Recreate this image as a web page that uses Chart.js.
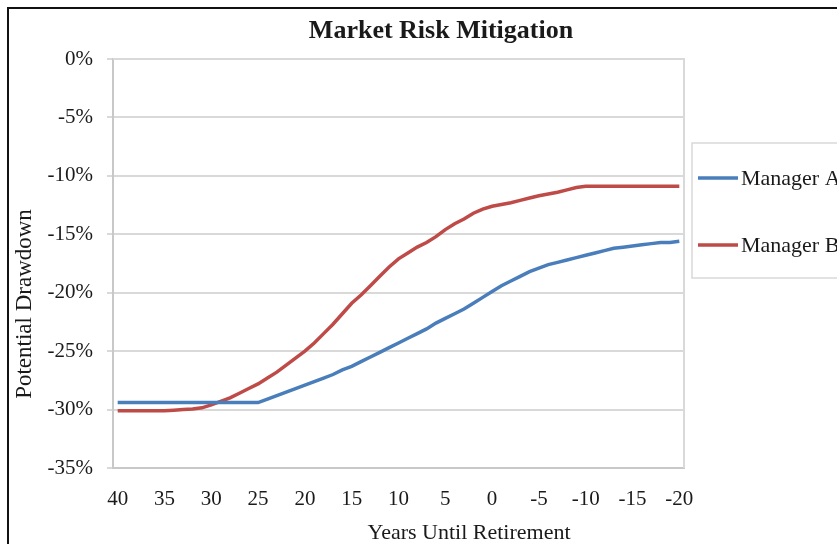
<!DOCTYPE html>
<html>
<head>
<meta charset="utf-8">
<title>Market Risk Mitigation</title>
<script src="https://cdn.jsdelivr.net/npm/chart.js@4.4.1/dist/chart.umd.min.js"></script>
<style>
  html, body { margin: 0; padding: 0; background: #fff; overflow: hidden; }
  #frame { position: absolute; left: 7px; top: 7px; width: 900px; height: 600px; border: 2px solid #111; }
  #riskChart { position: absolute; left: 0; top: 0; }
</style>
</head>
<body>
<div id="frame"><canvas id="riskChart" width="864" height="535"></canvas></div>
<script>
// years until retirement, one point per year
const years = [40, 39, 38, 37, 36, 35, 34, 33, 32, 31, 30, 29, 28, 27, 26, 25, 24, 23, 22, 21,
    20, 19, 18, 17, 16, 15, 14, 13, 12, 11, 10, 9, 8, 7, 6, 5, 4, 3, 2, 1,
    0, -1, -2, -3, -4, -5, -6, -7, -8, -9, -10, -11, -12, -13, -14, -15, -16, -17, -18, -19, -20];

// potential drawdown, percent
const managerA = [-29.4, -29.4, -29.4, -29.4, -29.4, -29.4, -29.4, -29.4, -29.4, -29.4, -29.4, -29.4, -29.4, -29.4, -29.4, -29.4,
    -29.1, -28.8, -28.5, -28.2, -27.9, -27.6, -27.3, -27.0, -26.6, -26.3, -25.9, -25.5, -25.1, -24.7,
    -24.3, -23.9, -23.5, -23.1, -22.6, -22.2, -21.8, -21.4, -20.9, -20.4,
    -19.9, -19.4, -19.0, -18.6, -18.2, -17.9, -17.6, -17.4, -17.2, -17.0,
    -16.8, -16.6, -16.4, -16.2, -16.1, -16.0, -15.9, -15.8, -15.7, -15.7, -15.6];

const managerB = [-30.1, -30.1, -30.1, -30.1, -30.1, -30.1, -30.05, -30.0, -29.95, -29.85,
    -29.6, -29.3, -29.0, -28.6, -28.2, -27.8, -27.3, -26.8, -26.2, -25.6,
    -25.0, -24.3, -23.5, -22.7, -21.8, -20.9, -20.2, -19.4, -18.6, -17.8,
    -17.1, -16.6, -16.1, -15.7, -15.2, -14.6, -14.1, -13.7, -13.2, -12.85,
    -12.6, -12.45, -12.3, -12.1, -11.9, -11.7, -11.55, -11.4, -11.2, -11.0,
    -10.9, -10.9, -10.9, -10.9, -10.9, -10.9, -10.9, -10.9, -10.9, -10.9, -10.9];

const seriesNames = ['Manager A', 'Manager B'];
const yTicks = [0, -5, -10, -15, -20, -25, -30, -35];

const serif = '"Liberation Serif", "Times New Roman", serif';
const ink = '#1a1a1a';

// title, axis titles, boxed legend and plot border
const chartDecor = {
    id: 'chartDecor',
    beforeDatasetsDraw(chart) {
        const { ctx, chartArea: a } = chart;
        ctx.save();
        ctx.strokeStyle = '#d9d9d9';
        ctx.lineWidth = 2;
        ctx.beginPath();
        ctx.moveTo(a.left, a.top);
        ctx.lineTo(a.right, a.top);
        ctx.lineTo(a.right, a.bottom);
        ctx.stroke();
        ctx.restore();
    },
    afterDraw(chart) {
        const { ctx, chartArea: a } = chart;
        ctx.save();
        ctx.fillStyle = ink;
        ctx.textAlign = 'center';
        ctx.textBaseline = 'middle';

        ctx.font = 'bold 26px ' + serif;
        ctx.fillText('Market Risk Mitigation', chart.width / 2, 22);

        ctx.font = '22px ' + serif;
        ctx.fillText('Years Until Retirement', a.left + 356, a.bottom + 65);

        ctx.save();
        ctx.translate(16, a.top + 245);
        ctx.rotate(-Math.PI / 2);
        ctx.font = '23px ' + serif;
        ctx.fillText('Potential Drawdown', 0, 0);
        ctx.restore();

        // legend box
        const lx = a.right + 8, ly = a.top + 84;
        ctx.strokeStyle = '#d9d9d9';
        ctx.lineWidth = 1.5;
        ctx.strokeRect(lx, ly, 300, 135);
        ctx.textAlign = 'left';
        ctx.font = '22px ' + serif;
        chart.data.datasets.forEach((ds, i) => {
            const y = ly + 35 + i * 67;
            ctx.strokeStyle = ds.borderColor;
            ctx.lineWidth = ds.borderWidth;
            ctx.beginPath();
            ctx.moveTo(lx + 6, y);
            ctx.lineTo(lx + 46, y);
            ctx.stroke();
            ctx.fillStyle = ink;
            ctx.fillText(ds.label, lx + 49, y + 1);
        });
        ctx.restore();
    }
};

const ctxRisk = document.getElementById('riskChart').getContext('2d');
new Chart(ctxRisk, {
    type: 'line',
    data: {
        labels: years,
        datasets: [{
            label: seriesNames[0],
            data: managerA,
            borderColor: '#4A7EBB',
            borderWidth: 3.5,
            pointRadius: 0,
            tension: 0
        }, {
            label: seriesNames[1],
            data: managerB,
            borderColor: '#BE4B48',
            borderWidth: 3.5,
            pointRadius: 0,
            tension: 0
        }]
    },
    options: {
        responsive: false,
        animation: false,
        layout: { padding: { left: 0, right: 189, top: 50, bottom: 0 } },
        plugins: {
            legend: { display: false },
            title: { display: false },
            tooltip: { enabled: false }
        },
        scales: {
            x: {
                // points sit between tick marks, half a year in from each edge
                offset: true,
                grid: { display: false, drawTicks: false },
                border: { display: true, color: '#c8c8c8', width: 2 },
                afterFit(scale) { scale.height = 76; },
                ticks: {
                    autoSkip: false,
                    maxRotation: 0,
                    padding: 19,
                    color: ink,
                    font: { family: serif, size: 21 },
                    callback(value, index) {
                        return years[index] % 5 === 0 ? String(years[index]) : null;
                    }
                }
            },
            y: {
                min: yTicks[yTicks.length - 1],
                max: yTicks[0],
                grid: { color: '#d9d9d9', lineWidth: 2, tickLength: 6 },
                border: { display: true, color: '#c8c8c8', width: 2 },
                afterFit(scale) { scale.width = 104; },
                afterBuildTicks(scale) { scale.ticks = yTicks.map(v => ({ value: v })); },
                ticks: {
                    padding: 14,
                    color: ink,
                    font: { family: serif, size: 21 },
                    callback: value => value + '%'
                }
            }
        }
    },
    plugins: [chartDecor]
});
</script>
</body>
</html>
